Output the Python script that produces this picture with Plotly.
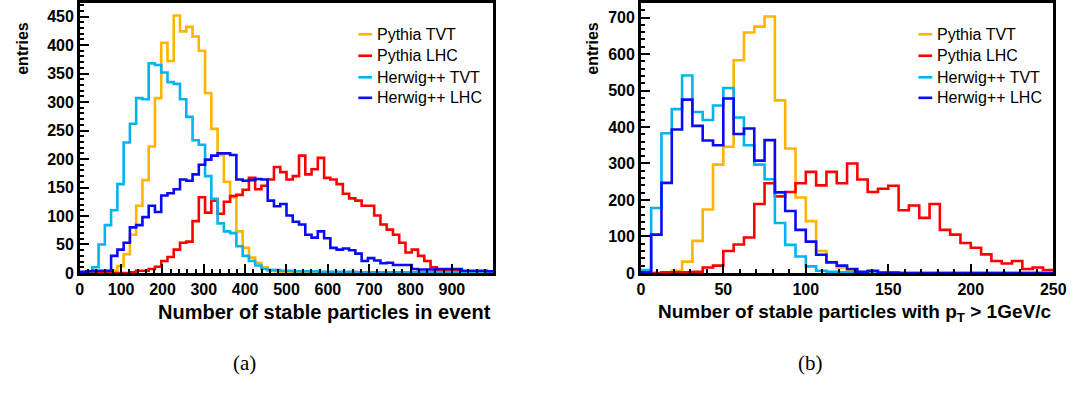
import numpy as np
import plotly.graph_objects as go

W, H = 1083, 416

# ---------------- data: panel (a) -----------------
a_xmin, a_xmax, a_nbins = 0, 1000, 66
a_pythia_tvt = [0, 0, 0, 0, 1, 4, 12, 33, 67, 118, 163, 222, 307, 404, 372, 452, 424, 432, 415, 390,
                316, 253, 207, 160, 133, 73, 44, 27, 18, 10, 5, 3, 2, 1, 1, 1] + [0] * 30
a_pythia_lhc = [0, 0, 0, 0, 0, 0, 0, 0, 1, 4,
                4, 7, 11, 21, 28, 41, 53, 55, 91, 133,
                106, 127, 104, 125, 135, 137, 146, 167, 147, 153,
                164, 186, 177, 164, 170, 206, 173, 182, 202, 167,
                164, 156, 139, 131, 127, 118, 118, 101, 85, 76,
                67, 53, 36, 41, 30, 21, 10, 4, 4, 4,
                3, 2, 2, 2, 1, 1]
a_herwig_tvt = [1, 3, 10, 50, 84, 110, 156, 229, 262, 307,
                305, 368, 365, 352, 335, 332, 305, 274, 233, 225,
                170, 130, 87, 73, 70, 47, 30, 21, 13, 7,
                5, 5, 4, 4, 3, 3, 3, 3, 2, 2] + [2] * 4 + [1] * 22
a_herwig_lhc = [2, 3, 4, 4, 4, 30, 41, 53, 80, 84,
                98, 118, 107, 136, 140, 147, 164, 162, 173, 190,
                199, 206, 210, 210, 207, 164, 162, 163, 165, 164,
                127, 117, 121, 101, 90, 85, 67, 62, 73, 61,
                44, 41, 43, 40, 34, 21, 26, 22, 17, 18,
                14, 14, 14, 7, 6, 6, 6, 7, 7, 7,
                7, 4, 4, 4, 4, 3]
a_xticks = [0, 100, 200, 300, 400, 500, 600, 700, 800, 900]
a_yticks = [0, 50, 100, 150, 200, 250, 300, 350, 400, 450]

# ---------------- data: panel (b) -----------------
b_xmin, b_xmax, b_nbins = 0, 250, 40
b_pythia_tvt = [0, 0, 1, 6, 31, 88, 174, 297, 346, 583, 659, 675, 703, 473, 341, 207, 142, 60, 30, 15,
                5, 2, 1] + [0] * 17
b_pythia_lhc = [0, 0, 2, 2, 2, 3, 15, 20, 60, 78,
                97, 189, 246, 210, 222, 246, 277, 240, 277, 246,
                300, 256, 222, 231, 239, 172, 185, 151, 189, 118,
                105, 82, 69, 51, 33, 26, 33, 11, 15, 8]
b_herwig_tvt = [8, 178, 383, 449, 541, 441, 419, 459, 507, 426,
                350, 297, 257, 137, 77, 45, 18, 6, 3, 2,
                1] + [0] * 19
b_herwig_lhc = [2, 105, 247, 393, 475, 403, 363, 350, 478, 381,
                396, 308, 364, 221, 170, 118, 86, 50, 29, 20,
                11, 3, 6, 1, 1] + [0] * 15
b_xticks = [0, 50, 100, 150, 200, 250]
b_yticks = [0, 100, 200, 300, 400, 500, 600, 700]

names = ["Pythia TVT", "Pythia LHC", "Herwig++ TVT", "Herwig++ LHC"]
colors = ["#FFB400", "#FF0000", "#00B4F0", "#0A0AF5"]

fig = go.Figure()


def step_trace(xmin, xmax, nb, vals, color, xa, ya):
    edges = list(np.linspace(xmin, xmax, nb + 1))
    xs = [edges[0]] + edges
    ys = [0] + list(vals) + [vals[-1]]
    return go.Scatter(x=xs, y=ys, mode="lines", line=dict(shape="hv", color=color, width=2.6),
                      xaxis=xa, yaxis=ya, showlegend=False, hoverinfo="skip")


for vals, c in zip([a_pythia_tvt, a_pythia_lhc, a_herwig_tvt, a_herwig_lhc], colors):
    fig.add_trace(step_trace(a_xmin, a_xmax, a_nbins, vals, c, "x", "y"))
for vals, c in zip([b_pythia_tvt, b_pythia_lhc, b_herwig_tvt, b_herwig_lhc], colors):
    fig.add_trace(step_trace(b_xmin, b_xmax, b_nbins, vals, c, "x2", "y2"))

tickfont = dict(family="Liberation Sans, Arial, sans-serif", size=16, color="black", weight="bold")


def px(x):
    return x / W


def py(y):
    return 1 - y / H


common = dict(showgrid=False, zeroline=False, showline=True, mirror=True, linecolor="black",
              linewidth=2.5, ticks="inside", tickcolor="black", tickwidth=2, tickfont=tickfont,
              tickmode="array")

fig.update_layout(
    width=W, height=H, margin=dict(l=0, r=0, t=0, b=0),
    paper_bgcolor="white", plot_bgcolor="white",
    xaxis=dict(domain=[px(77), px(497)], range=[a_xmin, a_xmax], tickvals=a_xticks, ticklen=9,
               minor=dict(tickmode="linear", tick0=0, dtick=20, ticks="inside", ticklen=4,
                          tickcolor="black", tickwidth=1.5, showgrid=False),
               anchor="y", **common),
    yaxis=dict(domain=[py(279), py(3)], range=[0, 474], tickvals=a_yticks, ticklen=9,
               minor=dict(tickmode="linear", tick0=0, dtick=10, ticks="inside", ticklen=4,
                          tickcolor="black", tickwidth=1.5, showgrid=False),
               anchor="x", **common),
    xaxis2=dict(domain=[px(647), px(1066)], range=[b_xmin, b_xmax], tickvals=b_xticks, ticklen=9,
                minor=dict(tickmode="linear", tick0=0, dtick=10, ticks="inside", ticklen=4,
                           tickcolor="black", tickwidth=1.5, showgrid=False),
                anchor="y2", **common),
    yaxis2=dict(domain=[py(279), py(3)], range=[0, 740], tickvals=b_yticks, ticklen=9,
                minor=dict(tickmode="linear", tick0=0, dtick=20, ticks="inside", ticklen=4,
                           tickcolor="black", tickwidth=1.5, showgrid=False),
                anchor="x2", **common),
)

titlefont = dict(family="Liberation Sans, Arial, sans-serif", size=20, color="black", weight="bold")
titlefont2 = dict(family="Liberation Sans, Arial, sans-serif", size=19, color="black", weight="bold")
yfont = dict(family="Liberation Sans, Arial, sans-serif", size=16, color="black", weight="bold")
legfont = dict(family="Liberation Sans, Arial, sans-serif", size=16, color="black")
ann = []
ann.append(dict(x=px(497), y=py(306), xref="paper", yref="paper", xanchor="right", yanchor="top",
                text="Number of stable particles in event", showarrow=False, font=titlefont))
ann.append(dict(x=px(1066), y=py(306), xref="paper", yref="paper", xanchor="right", yanchor="top",
                text="Number of stable particles with p<sub>T</sub> > 1GeV/c", showarrow=False,
                font=titlefont2))
for xx in (18, 597):
    ann.append(dict(x=px(xx), y=py(20), xref="paper", yref="paper", xanchor="center", yanchor="top",
                    text="entries", textangle=-90, showarrow=False, font=yfont))
capfont = dict(family="Liberation Serif, DejaVu Serif, serif", size=21, color="black")
ann.append(dict(x=px(244), y=py(371), xref="paper", yref="paper", xanchor="center", yanchor="middle",
                text="(a)", showarrow=False, font=capfont))
ann.append(dict(x=px(819), y=py(371), xref="paper", yref="paper", xanchor="center", yanchor="middle",
                text="(b)", showarrow=False, font=capfont))

shapes = []
leg_rows = [35, 57, 79, 100]
for (lx0, lx1, tx) in [(360, 374, 377), (929, 943, 946)]:
    for nm, c, ry in zip(names, colors, leg_rows):
        shapes.append(dict(type="line", xref="paper", yref="paper", x0=px(lx0), x1=px(lx1),
                           y0=py(ry), y1=py(ry), line=dict(color=c, width=2.6)))
        ann.append(dict(x=px(tx), y=py(ry), xref="paper", yref="paper", xanchor="left",
                        yanchor="middle", text=nm, showarrow=False, font=legfont))

fig.update_layout(annotations=ann, shapes=shapes)
fig.write_html("out.html")
